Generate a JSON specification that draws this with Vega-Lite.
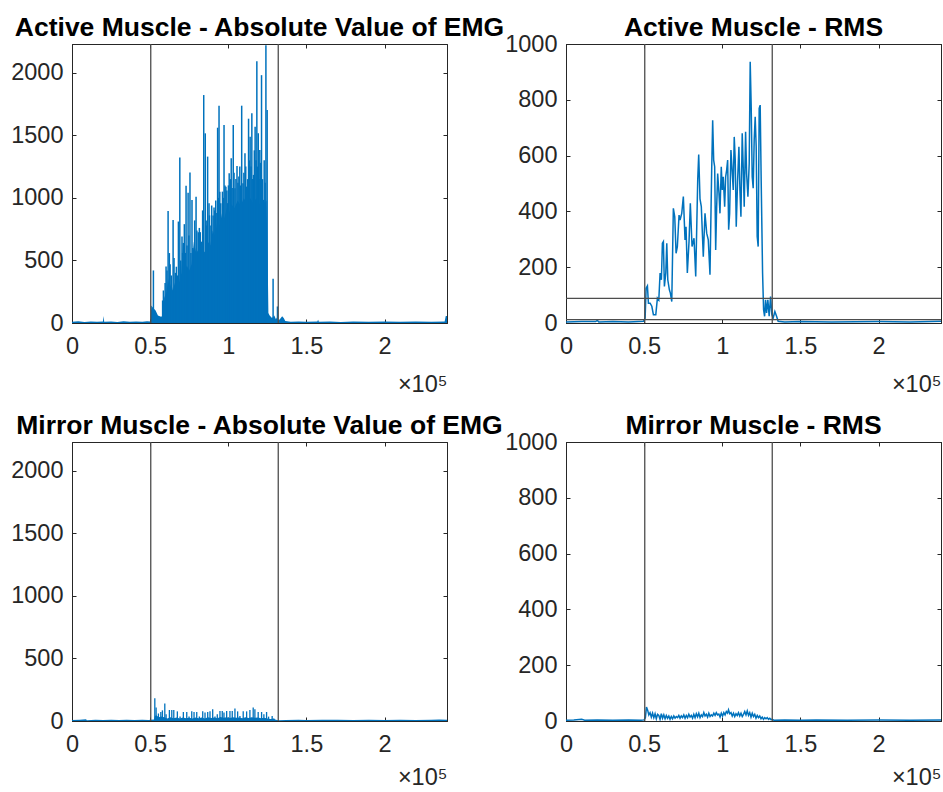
{
  "$schema": "https://vega.github.io/schema/vega-lite/v6.json",
  "background": "white",
  "padding": {"left": 10, "top": 14, "right": 0, "bottom": 0},
  "autosize": {"type": "pad"},
  "config": {
    "view": {"stroke": "#262626", "strokeWidth": 1},
    "axis": {
      "domainColor": "#262626", "domainWidth": 1, "tickColor": "#262626", "tickWidth": 1, "tickSize": -4,
      "labelColor": "#262626", "labelFont": "Liberation Sans", "labelFontSize": 23.5, "grid": false,
      "labelFlush": false, "labelOverlap": false, "titleFont": "Liberation Sans"
    },
    "title": {"font": "Liberation Sans", "fontSize": 26.5, "fontWeight": "bold", "color": "#000000", "anchor": "middle", "frame": "group", "baseline": "alphabetic"}
  },
  "datasets": {
    "vlines": [{"t": 50400, "v": 0}, {"t": 132000, "v": 0}],
    "hlines": [{"v": 88}, {"v": 12}],
    "tl_env": [
      {"t":0,"v":10},{"t":4000,"v":13},{"t":8000,"v":8},{"t":12000,"v":12},{"t":16000,"v":9},{"t":19800,"v":11},{"t":20200,"v":55},{"t":20600,"v":10},{"t":25000,"v":12},{"t":29000,"v":8},{"t":33000,"v":13},{"t":37000,"v":9},{"t":41000,"v":12},{"t":45000,"v":10},{"t":48000,"v":13},{"t":50300,"v":12},{"t":50700,"v":140},{"t":52000,"v":120},{"t":53500,"v":100},{"t":55000,"v":60},{"t":57000,"v":50},{"t":58500,"v":60},{"t":59000,"v":200},{"t":60500,"v":250},{"t":61500,"v":360},{"t":62500,"v":280},{"t":63500,"v":320},{"t":64500,"v":260},{"t":66000,"v":330},{"t":67500,"v":270},{"t":69000,"v":350},{"t":70000,"v":400},{"t":71000,"v":650},{"t":72000,"v":420},{"t":73500,"v":460},{"t":75000,"v":420},{"t":76500,"v":470},{"t":78000,"v":650},{"t":79500,"v":560},{"t":81000,"v":590},{"t":82500,"v":500},{"t":84000,"v":580},{"t":85500,"v":560},{"t":87000,"v":650},{"t":88500,"v":620},{"t":90000,"v":740},{"t":91500,"v":700},{"t":93000,"v":820},{"t":94500,"v":780},{"t":96000,"v":880},{"t":97500,"v":840},{"t":99000,"v":920},{"t":100500,"v":880},{"t":102000,"v":950},{"t":104000,"v":920},{"t":106000,"v":980},{"t":108000,"v":940},{"t":110000,"v":1000},{"t":112000,"v":950},{"t":114000,"v":1000},{"t":116000,"v":960},{"t":118000,"v":1000},{"t":120000,"v":950},{"t":122000,"v":980},{"t":123500,"v":960},{"t":124500,"v":980},{"t":125200,"v":530},{"t":125700,"v":80},{"t":126500,"v":60},{"t":128000,"v":40},{"t":129500,"v":60},{"t":130500,"v":30},{"t":131500,"v":50},{"t":132000,"v":20},{"t":133000,"v":30},{"t":134500,"v":53},{"t":135500,"v":40},{"t":136500,"v":15},{"t":140000,"v":10},{"t":145000,"v":12},{"t":150000,"v":9},{"t":157000,"v":12},{"t":157500,"v":25},{"t":158000,"v":10},{"t":165000,"v":12},{"t":172000,"v":8},{"t":180000,"v":12},{"t":190000,"v":9},{"t":200000,"v":12},{"t":210000,"v":10},{"t":220000,"v":12},{"t":230000,"v":9},{"t":238500,"v":12},{"t":239200,"v":55},{"t":240000,"v":55}
    ],
    "tl_spk": [
      {"t":52100,"v":420},{"t":58500,"v":260},{"t":60200,"v":452},{"t":61500,"v":896},{"t":62300,"v":559},{"t":64700,"v":824},{"t":66200,"v":401},{"t":68100,"v":811},{"t":69000,"v":1322},{"t":70400,"v":691},{"t":71900,"v":790},{"t":73000,"v":1098},{"t":74300,"v":1042},{"t":75500,"v":1202},{"t":76800,"v":984},{"t":79400,"v":1010},{"t":80800,"v":726},{"t":82100,"v":726},{"t":84300,"v":1822},{"t":85300,"v":1516},{"t":86800,"v":1330},{"t":87700,"v":958},{"t":89400,"v":939},{"t":90900,"v":923},{"t":93200,"v":1561},{"t":94100,"v":1737},{"t":95200,"v":958},{"t":97300,"v":1582},{"t":98500,"v":1090},{"t":99600,"v":958},{"t":100600,"v":1197},{"t":101900,"v":1317},{"t":103200,"v":1582},{"t":104300,"v":1077},{"t":105600,"v":1255},{"t":106800,"v":1170},{"t":108600,"v":1737},{"t":109400,"v":1117},{"t":110700,"v":1357},{"t":111800,"v":1090},{"t":113000,"v":1633},{"t":114000,"v":1489},{"t":115100,"v":1676},{"t":116200,"v":1184},{"t":117200,"v":1569},{"t":118300,"v":2093},{"t":119200,"v":1516},{"t":120200,"v":1383},{"t":121300,"v":1981},{"t":122600,"v":984},{"t":124100,"v":2221},{"t":124900,"v":1702},{"t":128700,"v":353},{"t":131500,"v":132},
      {"t":58000,"v":180},{"t":59600,"v":320},{"t":60800,"v":420},{"t":62800,"v":470},{"t":63600,"v":380},{"t":65300,"v":520},{"t":66800,"v":450},{"t":67400,"v":380},{"t":69600,"v":500},{"t":70800,"v":560},{"t":71300,"v":640},{"t":72500,"v":560},{"t":73600,"v":620},{"t":74800,"v":700},{"t":76100,"v":560},{"t":77300,"v":600},{"t":78500,"v":820},{"t":79900,"v":740},{"t":81500,"v":760},{"t":82800,"v":650},{"t":83600,"v":900},{"t":85900,"v":780},{"t":86300,"v":820},{"t":88000,"v":860},{"t":88900,"v":780},{"t":90300,"v":860},{"t":91400,"v":900},{"t":92000,"v":980},{"t":92700,"v":880},{"t":93700,"v":1000},{"t":94600,"v":1050},{"t":96300,"v":1050},{"t":96900,"v":1000},{"t":97900,"v":1100},{"t":99100,"v":1060},{"t":100100,"v":1100},{"t":101300,"v":1150},{"t":102500,"v":1080},{"t":103700,"v":1200},{"t":104900,"v":1150},{"t":106200,"v":1120},{"t":107400,"v":1250},{"t":108000,"v":1100},{"t":110000,"v":1200},{"t":111200,"v":1250},{"t":112400,"v":1150},{"t":113500,"v":1300},{"t":114600,"v":1250},{"t":115700,"v":1150},{"t":116700,"v":1380},{"t":117800,"v":1300},{"t":118800,"v":1250},{"t":119700,"v":1150},{"t":120700,"v":1280},{"t":121900,"v":1150},{"t":123000,"v":1300},{"t":123600,"v":1120}
    ],
    "tr": [
      {"t":0,"v":4},{"t":10000,"v":5},{"t":19000,"v":5},{"t":20000,"v":9},{"t":21000,"v":4},{"t":30000,"v":5},{"t":40000,"v":4},{"t":49560,"v":6},{"t":50640,"v":18},{"t":51280,"v":125},{"t":52110,"v":133},{"t":52750,"v":71},{"t":53830,"v":71},{"t":54920,"v":60},{"t":55940,"v":30},{"t":57470,"v":30},{"t":58500,"v":89},{"t":59390,"v":82},{"t":60220,"v":179},{"t":61050,"v":155},{"t":61690,"v":286},{"t":62330,"v":292},{"t":62970,"v":131},{"t":63860,"v":179},{"t":64500,"v":286},{"t":65140,"v":155},{"t":66160,"v":119},{"t":66800,"v":107},{"t":67690,"v":77},{"t":68710,"v":411},{"t":69600,"v":381},{"t":70440,"v":250},{"t":71270,"v":274},{"t":72350,"v":387},{"t":72990,"v":369},{"t":74080,"v":393},{"t":75100,"v":453},{"t":76180,"v":298},{"t":76820,"v":345},{"t":77650,"v":179},{"t":78740,"v":292},{"t":79570,"v":429},{"t":80660,"v":274},{"t":81930,"v":304},{"t":83020,"v":167},{"t":84300,"v":513},{"t":84930,"v":604},{"t":85760,"v":445},{"t":86600,"v":417},{"t":87870,"v":238},{"t":88960,"v":393},{"t":90040,"v":322},{"t":91060,"v":298},{"t":92150,"v":173},{"t":93230,"v":548},{"t":93870,"v":727},{"t":94510,"v":584},{"t":95150,"v":560},{"t":95790,"v":262},{"t":96430,"v":417},{"t":97070,"v":536},{"t":97900,"v":465},{"t":98540,"v":393},{"t":99370,"v":560},{"t":100010,"v":477},{"t":100640,"v":524},{"t":101540,"v":417},{"t":102180,"v":524},{"t":102820,"v":548},{"t":103460,"v":584},{"t":104100,"v":334},{"t":104730,"v":393},{"t":105560,"v":620},{"t":106200,"v":560},{"t":107030,"v":477},{"t":107670,"v":667},{"t":108310,"v":584},{"t":108950,"v":345},{"t":109840,"v":513},{"t":110670,"v":632},{"t":111310,"v":477},{"t":111950,"v":381},{"t":112780,"v":680},{"t":113420,"v":560},{"t":114060,"v":417},{"t":114950,"v":685},{"t":115590,"v":536},{"t":116420,"v":453},{"t":117250,"v":572},{"t":117890,"v":936},{"t":118530,"v":775},{"t":119170,"v":524},{"t":119800,"v":483},{"t":120440,"v":656},{"t":121080,"v":739},{"t":121720,"v":632},{"t":122360,"v":310},{"t":123000,"v":274},{"t":123640,"v":769},{"t":124270,"v":781},{"t":124910,"v":513},{"t":125810,"v":179},{"t":126450,"v":48},{"t":127090,"v":24},{"t":127730,"v":83},{"t":128370,"v":36},{"t":129190,"v":83},{"t":130020,"v":24},{"t":130920,"v":95},{"t":131750,"v":30},{"t":132580,"v":18},{"t":133670,"v":41},{"t":134760,"v":24},{"t":135780,"v":6},{"t":140000,"v":4},{"t":150000,"v":5},{"t":170000,"v":4},{"t":200000,"v":5},{"t":220000,"v":4},{"t":240000,"v":6}
    ],
    "bl_env": [
      {"t":0,"v":8},{"t":5000,"v":10},{"t":9000,"v":14},{"t":9500,"v":6},{"t":15000,"v":9},{"t":20000,"v":7},{"t":25000,"v":10},{"t":30000,"v":8},{"t":35000,"v":9},{"t":40000,"v":7},{"t":45000,"v":10},{"t":49000,"v":8},{"t":50300,"v":10},{"t":52500,"v":12},{"t":53000,"v":40},{"t":54000,"v":45},{"t":55500,"v":30},{"t":57000,"v":35},{"t":59000,"v":30},{"t":61000,"v":20},{"t":63000,"v":30},{"t":65000,"v":22},{"t":67000,"v":28},{"t":69000,"v":20},{"t":71000,"v":28},{"t":73000,"v":22},{"t":75000,"v":26},{"t":77000,"v":20},{"t":79000,"v":28},{"t":81000,"v":22},{"t":83000,"v":28},{"t":85000,"v":20},{"t":87000,"v":30},{"t":89000,"v":24},{"t":91000,"v":28},{"t":93000,"v":22},{"t":95000,"v":32},{"t":97000,"v":26},{"t":99000,"v":30},{"t":101000,"v":24},{"t":103000,"v":30},{"t":105000,"v":26},{"t":107000,"v":28},{"t":109000,"v":22},{"t":111000,"v":30},{"t":113000,"v":24},{"t":115000,"v":30},{"t":117000,"v":26},{"t":119000,"v":28},{"t":121000,"v":22},{"t":123000,"v":26},{"t":125000,"v":20},{"t":127000,"v":15},{"t":129000,"v":18},{"t":130500,"v":10},{"t":132000,"v":6},{"t":137000,"v":8},{"t":145000,"v":10},{"t":150000,"v":7},{"t":160000,"v":9},{"t":170000,"v":10},{"t":180000,"v":7},{"t":190000,"v":9},{"t":200000,"v":8},{"t":210000,"v":10},{"t":220000,"v":8},{"t":230000,"v":10},{"t":235000,"v":12},{"t":240000,"v":9}
    ],
    "bl_spk": [
      {"t":53000,"v":181},{"t":53830,"v":107},{"t":55300,"v":60},{"t":56840,"v":72},{"t":57860,"v":85},{"t":59390,"v":139},{"t":60220,"v":54},{"t":62330,"v":88},{"t":63860,"v":88},{"t":65140,"v":88},{"t":67430,"v":77},{"t":69160,"v":35},{"t":71270,"v":72},{"t":73440,"v":72},{"t":74910,"v":35},{"t":76630,"v":77},{"t":78100,"v":72},{"t":79830,"v":72},{"t":81490,"v":35},{"t":83660,"v":77},{"t":85130,"v":67},{"t":86850,"v":72},{"t":88320,"v":77},{"t":90040,"v":93},{"t":91510,"v":35},{"t":92980,"v":54},{"t":94700,"v":80},{"t":96170,"v":80},{"t":97260,"v":67},{"t":98980,"v":80},{"t":101090,"v":80},{"t":102560,"v":80},{"t":104280,"v":99},{"t":106010,"v":77},{"t":107480,"v":40},{"t":109580,"v":77},{"t":111760,"v":77},{"t":113860,"v":88},{"t":115970,"v":107},{"t":117050,"v":93},{"t":119160,"v":72},{"t":121330,"v":72},{"t":122800,"v":54},{"t":124530,"v":72},{"t":125810,"v":35},{"t":128100,"v":40},{"t":129190,"v":20}
    ],
    "br": [
      {"t":0,"v":3},{"t":5000,"v":4},{"t":10000,"v":6},{"t":12000,"v":3},{"t":20000,"v":4},{"t":30000,"v":3},{"t":40000,"v":4},{"t":48000,"v":3},{"t":50000,"v":4},{"t":50800,"v":12},{"t":51500,"v":50},{"t":52300,"v":38},{"t":53000,"v":22},{"t":53800,"v":30},{"t":54600,"v":14},{"t":55400,"v":28},{"t":56200,"v":12},{"t":57000,"v":26},{"t":57800,"v":8},{"t":58600,"v":24},{"t":59400,"v":20},{"t":60200,"v":6},{"t":61000,"v":26},{"t":61800,"v":10},{"t":62600,"v":22},{"t":63400,"v":8},{"t":64200,"v":20},{"t":65000,"v":10},{"t":65800,"v":18},{"t":66600,"v":6},{"t":67400,"v":16},{"t":68200,"v":8},{"t":69000,"v":18},{"t":69800,"v":10},{"t":70600,"v":16},{"t":71400,"v":12},{"t":72200,"v":20},{"t":73000,"v":10},{"t":73800,"v":18},{"t":74600,"v":12},{"t":75400,"v":22},{"t":76200,"v":10},{"t":77000,"v":20},{"t":77800,"v":12},{"t":78600,"v":24},{"t":79400,"v":14},{"t":80200,"v":20},{"t":81000,"v":10},{"t":81800,"v":24},{"t":82600,"v":12},{"t":83400,"v":26},{"t":84200,"v":15},{"t":85000,"v":28},{"t":85800,"v":12},{"t":86600,"v":22},{"t":87400,"v":16},{"t":88200,"v":30},{"t":89000,"v":18},{"t":89800,"v":24},{"t":90600,"v":14},{"t":91400,"v":28},{"t":92200,"v":16},{"t":93000,"v":22},{"t":93800,"v":18},{"t":94600,"v":28},{"t":95400,"v":20},{"t":96200,"v":30},{"t":97000,"v":22},{"t":97800,"v":25},{"t":98600,"v":14},{"t":99400,"v":28},{"t":100200,"v":18},{"t":101000,"v":30},{"t":101800,"v":22},{"t":102600,"v":34},{"t":103400,"v":28},{"t":104000,"v":40},{"t":104800,"v":26},{"t":105600,"v":30},{"t":106400,"v":18},{"t":107200,"v":28},{"t":108000,"v":16},{"t":108800,"v":26},{"t":109600,"v":20},{"t":110400,"v":30},{"t":111200,"v":18},{"t":112000,"v":28},{"t":112800,"v":16},{"t":113600,"v":24},{"t":114400,"v":34},{"t":115200,"v":22},{"t":116000,"v":36},{"t":116800,"v":20},{"t":117600,"v":30},{"t":118400,"v":14},{"t":119200,"v":28},{"t":120000,"v":16},{"t":120800,"v":24},{"t":121600,"v":10},{"t":122400,"v":20},{"t":123200,"v":12},{"t":124000,"v":18},{"t":124800,"v":8},{"t":125600,"v":14},{"t":126400,"v":6},{"t":127200,"v":12},{"t":128000,"v":8},{"t":128800,"v":12},{"t":129600,"v":6},{"t":130400,"v":10},{"t":131200,"v":5},{"t":132000,"v":6},{"t":133000,"v":3},{"t":140000,"v":4},{"t":150000,"v":3},{"t":160000,"v":4},{"t":180000,"v":3},{"t":200000,"v":4},{"t":220000,"v":3},{"t":240000,"v":4}
    ]
  },
  "columns": 2,
  "bounds": "flush",
  "spacing": {"row": 119, "column": 119},
  "concat": [
    {
      "width": 375, "height": 279,
      "title": {"text": "Active Muscle - Absolute Value of EMG", "offset": 2},
      "resolve": {"axis": {"x": "independent", "y": "independent"}},
      "layer": [
        {
          "data": {"name": "tl_env"},
          "mark": {"type": "area", "color": "#0072BD", "clip": true},
          "encoding": {
            "x": {"field": "t", "type": "quantitative", "scale": {"domain": [0, 240000], "nice": false, "zero": false},
                  "axis": {"orient": "bottom", "values": [0, 50000, 100000, 150000, 200000], "labelExpr": "datum.value / 100000", "labelPadding": 15, "title": "×10⁵", "titleX": 375, "titleY": 68, "titleAlign": "right", "titleBaseline": "alphabetic", "titleFontSize": 23.5, "titleFontWeight": "normal", "titleColor": "#262626"}},
            "y": {"field": "v", "type": "quantitative", "scale": {"domain": [0, 2230], "nice": false},
                  "axis": {"orient": "left", "values": [0, 500, 1000, 1500, 2000], "format": "d", "labelPadding": 13, "title": null}}
          }
        },
        {
          "data": {"name": "tl_spk"},
          "mark": {"type": "rule", "color": "#0072BD", "strokeWidth": 1.5, "clip": true},
          "encoding": {
            "x": {"field": "t", "type": "quantitative", "axis": null},
            "y": {"field": "v", "type": "quantitative", "axis": null},
            "y2": {"datum": 0}
          }
        },
        {
          "data": {"name": "vlines"},
          "mark": {"type": "rule", "color": "#4d4d4d", "strokeWidth": 1.3},
          "encoding": {"x": {"field": "t", "type": "quantitative", "axis": null}}
        },
        {
          "data": {"name": "vlines"},
          "mark": {"type": "point", "opacity": 0},
          "encoding": {
            "x": {"field": "t", "type": "quantitative", "axis": {"orient": "top", "values": [0, 50000, 100000, 150000, 200000], "labels": false, "title": null}},
            "y": {"field": "v", "type": "quantitative", "axis": {"orient": "right", "values": [0, 500, 1000, 1500, 2000], "labels": false, "title": null}}
          }
        }
      ]
    },
    {
      "width": 375, "height": 279,
      "title": {"text": "Active Muscle - RMS", "offset": -9.5},
      "resolve": {"axis": {"x": "independent", "y": "independent"}},
      "layer": [
        {
          "data": {"name": "tr"},
          "mark": {"type": "line", "color": "#0072BD", "strokeWidth": 1.5, "clip": true},
          "encoding": {
            "x": {"field": "t", "type": "quantitative", "scale": {"domain": [0, 240000], "nice": false, "zero": false},
                  "axis": {"orient": "bottom", "values": [0, 50000, 100000, 150000, 200000], "labelExpr": "datum.value / 100000", "labelPadding": 15, "title": "×10⁵", "titleX": 375, "titleY": 68, "titleAlign": "right", "titleBaseline": "alphabetic", "titleFontSize": 23.5, "titleFontWeight": "normal", "titleColor": "#262626"}},
            "y": {"field": "v", "type": "quantitative", "scale": {"domain": [0, 1000], "nice": false},
                  "axis": {"orient": "left", "values": [0, 200, 400, 600, 800, 1000], "format": "d", "labelPadding": 13, "title": null}}
          }
        },
        {
          "data": {"name": "vlines"},
          "mark": {"type": "rule", "color": "#4d4d4d", "strokeWidth": 1.3},
          "encoding": {"x": {"field": "t", "type": "quantitative", "axis": null}}
        },
        {
          "data": {"name": "hlines"},
          "mark": {"type": "rule", "color": "#4d4d4d", "strokeWidth": 1.3},
          "encoding": {"y": {"field": "v", "type": "quantitative", "axis": null}}
        },
        {
          "data": {"name": "vlines"},
          "mark": {"type": "point", "opacity": 0},
          "encoding": {
            "x": {"field": "t", "type": "quantitative", "axis": {"orient": "top", "values": [0, 50000, 100000, 150000, 200000], "labels": false, "title": null}},
            "y": {"field": "v", "type": "quantitative", "axis": {"orient": "right", "values": [0, 200, 400, 600, 800, 1000], "labels": false, "title": null}}
          }
        }
      ]
    },
    {
      "width": 375, "height": 279,
      "title": {"text": "Mirror Muscle - Absolute Value of EMG", "offset": 2},
      "resolve": {"axis": {"x": "independent", "y": "independent"}},
      "layer": [
        {
          "data": {"name": "bl_env"},
          "mark": {"type": "area", "color": "#0072BD", "clip": true},
          "encoding": {
            "x": {"field": "t", "type": "quantitative", "scale": {"domain": [0, 240000], "nice": false, "zero": false},
                  "axis": {"orient": "bottom", "values": [0, 50000, 100000, 150000, 200000], "labelExpr": "datum.value / 100000", "labelPadding": 15, "title": "×10⁵", "titleX": 375, "titleY": 63, "titleAlign": "right", "titleBaseline": "alphabetic", "titleFontSize": 23.5, "titleFontWeight": "normal", "titleColor": "#262626"}},
            "y": {"field": "v", "type": "quantitative", "scale": {"domain": [0, 2230], "nice": false},
                  "axis": {"orient": "left", "values": [0, 500, 1000, 1500, 2000], "format": "d", "labelPadding": 13, "title": null}}
          }
        },
        {
          "data": {"name": "bl_spk"},
          "mark": {"type": "rule", "color": "#0072BD", "strokeWidth": 1.3, "clip": true},
          "encoding": {
            "x": {"field": "t", "type": "quantitative", "axis": null},
            "y": {"field": "v", "type": "quantitative", "axis": null},
            "y2": {"datum": 0}
          }
        },
        {
          "data": {"name": "vlines"},
          "mark": {"type": "rule", "color": "#4d4d4d", "strokeWidth": 1.3},
          "encoding": {"x": {"field": "t", "type": "quantitative", "axis": null}}
        },
        {
          "data": {"name": "vlines"},
          "mark": {"type": "point", "opacity": 0},
          "encoding": {
            "x": {"field": "t", "type": "quantitative", "axis": {"orient": "top", "values": [0, 50000, 100000, 150000, 200000], "labels": false, "title": null}},
            "y": {"field": "v", "type": "quantitative", "axis": {"orient": "right", "values": [0, 500, 1000, 1500, 2000], "labels": false, "title": null}}
          }
        }
      ]
    },
    {
      "width": 375, "height": 279,
      "title": {"text": "Mirror Muscle - RMS", "offset": -9.5},
      "resolve": {"axis": {"x": "independent", "y": "independent"}},
      "layer": [
        {
          "data": {"name": "br"},
          "mark": {"type": "line", "color": "#0072BD", "strokeWidth": 1.5, "clip": true},
          "encoding": {
            "x": {"field": "t", "type": "quantitative", "scale": {"domain": [0, 240000], "nice": false, "zero": false},
                  "axis": {"orient": "bottom", "values": [0, 50000, 100000, 150000, 200000], "labelExpr": "datum.value / 100000", "labelPadding": 15, "title": "×10⁵", "titleX": 375, "titleY": 63, "titleAlign": "right", "titleBaseline": "alphabetic", "titleFontSize": 23.5, "titleFontWeight": "normal", "titleColor": "#262626"}},
            "y": {"field": "v", "type": "quantitative", "scale": {"domain": [0, 1000], "nice": false},
                  "axis": {"orient": "left", "values": [0, 200, 400, 600, 800, 1000], "format": "d", "labelPadding": 13, "title": null}}
          }
        },
        {
          "data": {"name": "vlines"},
          "mark": {"type": "rule", "color": "#4d4d4d", "strokeWidth": 1.3},
          "encoding": {"x": {"field": "t", "type": "quantitative", "axis": null}}
        },
        {
          "data": {"name": "vlines"},
          "mark": {"type": "point", "opacity": 0},
          "encoding": {
            "x": {"field": "t", "type": "quantitative", "axis": {"orient": "top", "values": [0, 50000, 100000, 150000, 200000], "labels": false, "title": null}},
            "y": {"field": "v", "type": "quantitative", "axis": {"orient": "right", "values": [0, 200, 400, 600, 800, 1000], "labels": false, "title": null}}
          }
        }
      ]
    }
  ]
}
